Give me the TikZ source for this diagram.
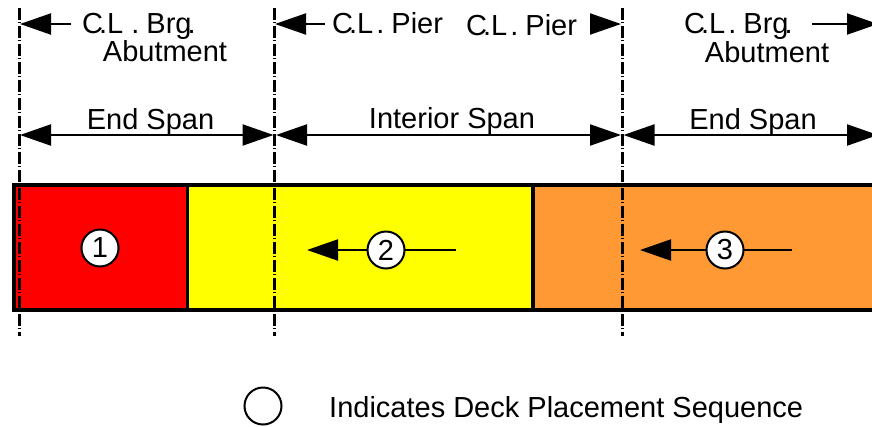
\documentclass[tikz,border=0pt]{standalone}
\usepackage{fontspec}
\setmainfont{Liberation Sans}
\usetikzlibrary{arrows.meta}
\definecolor{deckyellow}{RGB}{255,255,0}
\definecolor{deckred}{RGB}{255,0,0}
\definecolor{deckorange}{RGB}{255,153,51}
\tikzset{
 lbl/.style={inner sep=0pt,font=\fontsize{29}{32}\selectfont,anchor=base},
 lblw/.style={lbl,anchor=base west},
 dim/.style={line width=2.2pt,{Triangle[length=31pt,width=21pt]}-{Triangle[length=31pt,width=21pt]}},
 lead/.style={line width=2pt,-{Triangle[length=31pt,width=21pt]}},
 cline/.style={line width=3pt,dash pattern=on 11.5pt off 2.6pt on 1.3pt off 2.6pt,black},
 seg/.style={draw=black,line width=3.4pt,line join=miter},
 num/.style={circle,draw=black,fill=white,line width=2pt,minimum size=37pt,inner sep=0pt,font=\fontsize{29}{32}\selectfont},
}
\begin{document}
\begin{tikzpicture}[x=1pt,y=-1pt]
\useasboundingbox (0,0) rectangle (872,426);
\begin{scope}
\clip (0,0) rectangle (872,426);
% deck
\path[fill=deckred] (14,185) rectangle (187.5,310);
\path[fill=deckyellow] (187.5,185) rectangle (533,310);
\path[fill=deckorange] (533,185) rectangle (880,310);
\draw[seg] (880,185) -- (14,185) -- (14,310) -- (880,310);
\draw[seg] (187.5,185) -- (187.5,310);
\draw[seg] (533,185) -- (533,310);
% coordinates
\coordinate (la) at (19,8); \coordinate (lb) at (19,336);
\coordinate (ma) at (274.5,8); \coordinate (mb) at (274.5,336);
\coordinate (ra) at (622,8); \coordinate (rb) at (622,336);
\draw[cline] (la) -- (lb);
\draw[cline] (ma) -- (mb);
\draw[cline] (ra) -- (rb);
% dimensions
\coordinate (d1) at (20,135); \coordinate (d2) at (273.5,135);
\coordinate (d3) at (276,135); \coordinate (d4) at (621,135);
\coordinate (d5) at (623.5,135); \coordinate (d6) at (878,135);
\draw[dim] (d1) -- (d2);
\draw[dim] (d3) -- (d4);
\draw[dim] (d5) -- (d6);
\node[lbl] (t1) at (150.5,129) {End Span};
\node[lbl] (t2) at (452,128) {Interior Span};
\node[lbl] (t3) at (753,129) {End Span};
% leaders
\coordinate (a1s) at (71,24); \coordinate (a1e) at (20,24);
\coordinate (a2s) at (325,24); \coordinate (a2e) at (275,24);
\coordinate (a3s) at (590,24); \coordinate (a3e) at (621,24);
\coordinate (a4s) at (812,24); \coordinate (a4e) at (878,24);
\draw[lead] (a1s) -- (a1e);
\draw[lead] (a2s) -- (a2e);
\draw[lead] (a3s) -- (a3e);
\draw[lead] (a4s) -- (a4e);
\node[lblw] (c1) at (82,33) {C\kern-4pt.L\kern8pt.\kern-1pt\ Brg\kern-4pt.};
\node[lbl] (b1) at (165,61) {Abutment};
\node[lblw] (c2) at (332,33) {C\kern-4pt.L\kern3pt.\kern-1pt\ Pier};
\node[lblw] (c3) at (466,35) {C\kern-4pt.L\kern3pt.\kern-1pt\ Pier};
\node[lblw] (c4) at (684,33) {C\kern-4pt.L\kern3pt.\kern-1pt\ Brg\kern-4pt.};
\node[lbl] (b2) at (767,62) {Abutment};
% sequence
\node[num] (n1) at (100,248) {1};
\coordinate (s2) at (456,250); \coordinate (e2) at (307,250);
\draw[lead] (s2) -- (e2);
\node[num] (n2) at (386,250) {2};
\coordinate (s3) at (792,250); \coordinate (e3) at (640,250);
\draw[lead] (s3) -- (e3);
\node[num] (n3) at (725,250) {3};
\node[num] (leg) at (263,406) {};
\node[lblw] (legt) at (329,417) {Indicates Deck Placement Sequence};
\end{scope}
\end{tikzpicture}
\end{document}
